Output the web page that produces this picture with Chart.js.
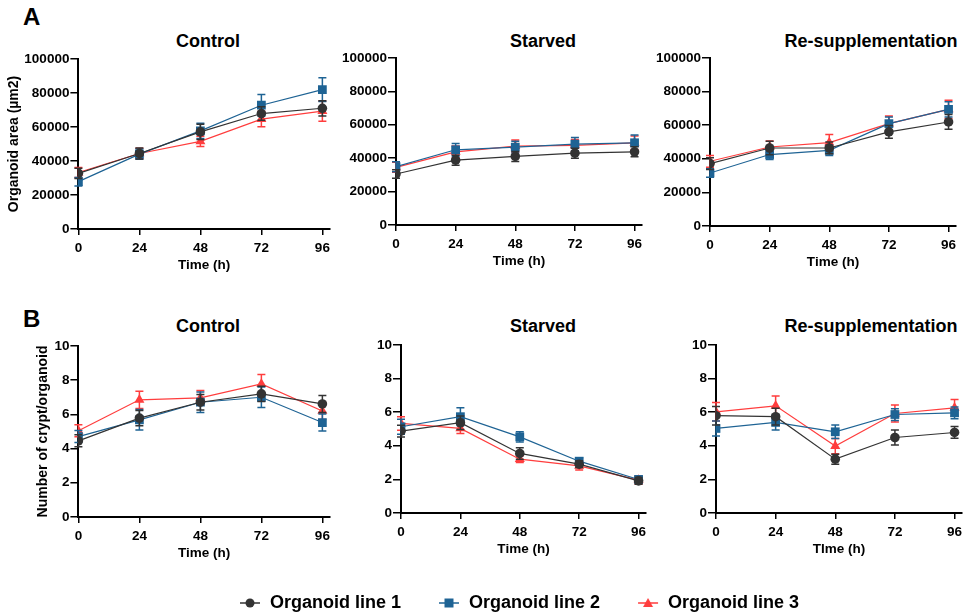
<!DOCTYPE html>
<html>
<head>
<meta charset="utf-8">
<script src="https://cdn.jsdelivr.net/npm/chart.js@4.4.1/dist/chart.umd.min.js"></script>
<style>
  body { margin: 0; background: #fff; width: 966px; height: 616px; position: relative; overflow: hidden;
         font-family: "Liberation Sans", Arial, sans-serif; color: #000; }
  canvas { position: absolute; }
  .letter { position: absolute; font-weight: bold; font-size: 24px; line-height: 24px; }
  .title { position: absolute; width: 300px; text-align: center; font-weight: bold; font-size: 18px; line-height: 18px; }
</style>
</head>
<body>
<div class="letter" style="left:23px;top:5px">A</div>
<div class="letter" style="left:23px;top:307px">B</div>
<div class="title" style="left:58px;top:32px">Control</div>
<div class="title" style="left:393px;top:32px">Starved</div>
<div class="title" style="left:721px;top:32px">Re-supplementation</div>
<div class="title" style="left:58px;top:317px">Control</div>
<div class="title" style="left:393px;top:317px">Starved</div>
<div class="title" style="left:721px;top:317px">Re-supplementation</div>

<script>
const hours = [0, 24, 48, 72, 96];
const seriesNames = ["Organoid line 1", "Organoid line 2", "Organoid line 3"];

// A: organoid area (µm2), mean and error
const areaCtrl1 = [32700, 44400, 57100, 67900, 71000];
const areaCtrl1Err = [3000, 3200, 4500, 4000, 4500];
const areaCtrl2 = [27800, 44000, 57700, 72800, 82000];
const areaCtrl2Err = [2500, 3000, 4500, 6300, 7000];
const areaCtrl3 = [33200, 44400, 51500, 64600, 69300];
const areaCtrl3Err = [3000, 3000, 3000, 4500, 6000];

const areaStarv1 = [30500, 38800, 41000, 43000, 43800];
const areaStarv1Err = [2500, 3000, 3000, 3000, 3000];
const areaStarv2 = [34900, 45000, 46600, 48400, 49200];
const areaStarv2Err = [3000, 3800, 3500, 4000, 4600];
const areaStarv3 = [34500, 43800, 47200, 47600, 49200];
const areaStarv3Err = [3000, 3500, 3600, 3500, 4000];

const areaResup1 = [37100, 46400, 46400, 56000, 61900];
const areaResup1Err = [3500, 4000, 3500, 3800, 4400];
const areaResup2 = [31500, 42500, 45000, 60900, 69400];
const areaResup2Err = [2500, 3000, 3000, 4000, 4500];
const areaResup3 = [38500, 47000, 49600, 60900, 69400];
const areaResup3Err = [3500, 3500, 4800, 4500, 5400];

// B: number of crypt / organoid
const cryptCtrl1 = [4.45, 5.78, 6.71, 7.2, 6.61];
const cryptCtrl1Err = [0.35, 0.45, 0.45, 0.45, 0.5];
const cryptCtrl2 = [4.7, 5.68, 6.71, 7.0, 5.52];
const cryptCtrl2Err = [0.35, 0.6, 0.6, 0.6, 0.5];
const cryptCtrl3 = [5.04, 6.85, 6.96, 7.78, 6.2];
const cryptCtrl3Err = [0.35, 0.5, 0.43, 0.55, 0.5];

const cryptStarv1 = [4.87, 5.37, 3.54, 2.9, 1.91];
const cryptStarv1Err = [0.35, 0.4, 0.34, 0.2, 0.2];
const cryptStarv2 = [5.13, 5.73, 4.53, 3.08, 1.99];
const cryptStarv2Err = [0.45, 0.53, 0.3, 0.2, 0.2];
const cryptStarv3 = [5.33, 5.03, 3.2, 2.8, 1.95];
const cryptStarv3Err = [0.4, 0.3, 0.2, 0.25, 0.25];

const cryptResup1 = [5.79, 5.73, 3.2, 4.49, 4.79];
const cryptResup1Err = [0.55, 0.5, 0.3, 0.45, 0.35];
const cryptResup2 = [5.03, 5.39, 4.83, 5.86, 5.96];
const cryptResup2Err = [0.45, 0.45, 0.4, 0.35, 0.35];
const cryptResup3 = [6.02, 6.38, 3.98, 5.92, 6.26];
const cryptResup3Err = [0.55, 0.58, 0.45, 0.5, 0.5];

const colors = ["#333333", "#1e6394", "#ff3d3d"];
const markers = ["circle", "rect", "triangle"];
const markerSize = [4.8, 6.2, 5.8];

// draws mean +/- error whiskers under each dataset
const errorBars = {
  id: "errorBars",
  beforeDatasetDraw(chart, args) {
    const ds = chart.data.datasets[args.index];
    if (!ds.errors) return;
    const ctx = chart.ctx;
    const y = chart.scales.y;
    ctx.save();
    ctx.strokeStyle = ds.borderColor;
    ctx.lineWidth = 1.5;
    args.meta.data.forEach((pt, i) => {
      const v = ds.data[i].y, e = ds.errors[i];
      const yt = y.getPixelForValue(v + e), yb = y.getPixelForValue(v - e);
      ctx.beginPath();
      ctx.moveTo(pt.x, yt); ctx.lineTo(pt.x, yb);
      ctx.moveTo(pt.x - 4, yt); ctx.lineTo(pt.x + 4, yt);
      ctx.moveTo(pt.x - 4, yb); ctx.lineTo(pt.x + 4, yb);
      ctx.stroke();
    });
    ctx.restore();
  }
};

function makeDataset(i, vals, errs) {
  return {
    label: seriesNames[i],
    data: hours.map((h, k) => ({ x: h, y: vals[k] })),
    errors: errs,
    borderColor: colors[i],
    backgroundColor: colors[i],
    borderWidth: 1.2,
    pointStyle: markers[i],
    pointRadius: markerSize[i],
    pointBorderWidth: 0,
    fill: false,
    tension: 0
  };
}

const tickFont = { family: "Liberation Sans", weight: "bold", size: 13.5 };

function makePanel(p) {
  const yTitleHalf = 8.4, xTitleHalf = 8.1;
  const left = p.yTitleX != null ? p.yTitleX - yTitleHalf : p.l - 70;
  const top = p.t - 14;
  const right = p.r + 10;
  const bottom = p.xTitleY + xTitleHalf;
  const c = document.createElement("canvas");
  c.width = right - left;
  c.height = bottom - top;
  c.style.left = left + "px";
  c.style.top = top + "px";
  document.body.appendChild(c);

  new Chart(c, {
    type: "line",
    data: { datasets: p.series.map((s, i) => makeDataset(i, s[0], s[1])) },
    options: {
      responsive: false,
      animation: false,
      layout: { padding: { left: 0, right: 10, top: 14, bottom: 0 } },
      plugins: { legend: { display: false }, tooltip: { enabled: false } },
      scales: {
        x: {
          type: "linear", min: 0, max: 99,
          afterBuildTicks: s => { s.ticks = hours.map(v => ({ value: v })); },
          afterFit: s => { s.height = bottom - p.b; },
          grid: { drawOnChartArea: false, drawTicks: true, tickLength: 6, color: "#000", lineWidth: 1.5 },
          border: { color: "#000", width: 2 },
          ticks: { color: "#000", font: tickFont, padding: 5, maxRotation: 0, autoSkip: false,
                   callback: v => String(v) },
          title: { display: true, text: p.xTitle, color: "#000", padding: 0,
                   font: { family: "Liberation Sans", weight: "bold", size: 13.5 } }
        },
        y: {
          min: 0, max: p.yMax,
          ticks: { stepSize: p.yStep, color: "#000", font: tickFont, padding: 1, callback: v => String(v) },
          afterFit: s => { s.width = p.l - left; },
          grid: { drawOnChartArea: false, drawTicks: true, tickLength: 8, color: "#000", lineWidth: 1.5 },
          border: { color: "#000", width: 2 },
          title: { display: p.yTitleX != null, text: p.yTitle, color: "#000", padding: 0,
                   font: { family: "Liberation Sans", weight: "bold", size: 14 } }
        }
      }
    },
    plugins: [errorBars]
  });
}

const areaTitle = "Organoid area (µm2)";
const cryptTitle = "Number of crypt/organoid";

makePanel({ l: 78, t: 59, r: 330, b: 229, xTitleY: 265, yTitleX: 14, yMax: 100000, yStep: 20000,
  xTitle: "Time (h)", yTitle: areaTitle,
  series: [[areaCtrl1, areaCtrl1Err], [areaCtrl2, areaCtrl2Err], [areaCtrl3, areaCtrl3Err]] });
makePanel({ l: 396, t: 58, r: 642, b: 225, xTitleY: 261, yTitleX: null, yMax: 100000, yStep: 20000,
  xTitle: "Time (h)", yTitle: "",
  series: [[areaStarv1, areaStarv1Err], [areaStarv2, areaStarv2Err], [areaStarv3, areaStarv3Err]] });
makePanel({ l: 710, t: 58, r: 956, b: 226, xTitleY: 262, yTitleX: null, yMax: 100000, yStep: 20000,
  xTitle: "Time (h)", yTitle: "",
  series: [[areaResup1, areaResup1Err], [areaResup2, areaResup2Err], [areaResup3, areaResup3Err]] });
makePanel({ l: 78, t: 346, r: 330, b: 517, xTitleY: 553, yTitleX: 43, yMax: 10, yStep: 2,
  xTitle: "Time (h)", yTitle: cryptTitle,
  series: [[cryptCtrl1, cryptCtrl1Err], [cryptCtrl2, cryptCtrl2Err], [cryptCtrl3, cryptCtrl3Err]] });
makePanel({ l: 401, t: 345, r: 646, b: 513, xTitleY: 549, yTitleX: null, yMax: 10, yStep: 2,
  xTitle: "Time (h)", yTitle: "",
  series: [[cryptStarv1, cryptStarv1Err], [cryptStarv2, cryptStarv2Err], [cryptStarv3, cryptStarv3Err]] });
makePanel({ l: 716, t: 345, r: 962, b: 513, xTitleY: 549, yTitleX: null, yMax: 10, yStep: 2,
  xTitle: "TIme (h)", yTitle: "",
  series: [[cryptResup1, cryptResup1Err], [cryptResup2, cryptResup2Err], [cryptResup3, cryptResup3Err]] });

// legend symbols: short line with the marker on it
function legendSymbol(i) {
  const c = document.createElement("canvas");
  c.width = 22; c.height = 12;
  const ctx = c.getContext("2d");
  ctx.strokeStyle = colors[i];
  ctx.lineWidth = 1.5;
  ctx.beginPath(); ctx.moveTo(1, 6); ctx.lineTo(21, 6); ctx.stroke();
  ctx.fillStyle = colors[i];
  ctx.beginPath();
  if (markers[i] === "circle") {
    ctx.arc(11, 6, 4.5, 0, Math.PI * 2);
  } else if (markers[i] === "rect") {
    ctx.rect(6.5, 1.5, 9, 9);
  } else {
    ctx.moveTo(11, 1); ctx.lineTo(16, 10); ctx.lineTo(6, 10); ctx.closePath();
  }
  ctx.fill();
  return c;
}

const lg = document.createElement("canvas");
lg.width = 894; lg.height = 220;
lg.style.left = "72px"; lg.style.top = "557px";
document.body.appendChild(lg);
new Chart(lg, {
  type: "line",
  data: {
    datasets: seriesNames.map((n, i) => ({
      label: n, data: [], borderColor: colors[i], backgroundColor: colors[i],
      pointStyle: legendSymbol(i)
    }))
  },
  options: {
    responsive: false,
    animation: false,
    scales: { x: { display: false }, y: { display: false } },
    plugins: {
      tooltip: { enabled: false },
      legend: {
        position: "top",
        labels: {
          usePointStyle: true, pointStyleWidth: 22, boxWidth: 22, boxHeight: 18, padding: 37,
          color: "#000", font: { family: "Liberation Sans", weight: "bold", size: 18 }
        }
      }
    }
  }
});
</script>
</body>
</html>
